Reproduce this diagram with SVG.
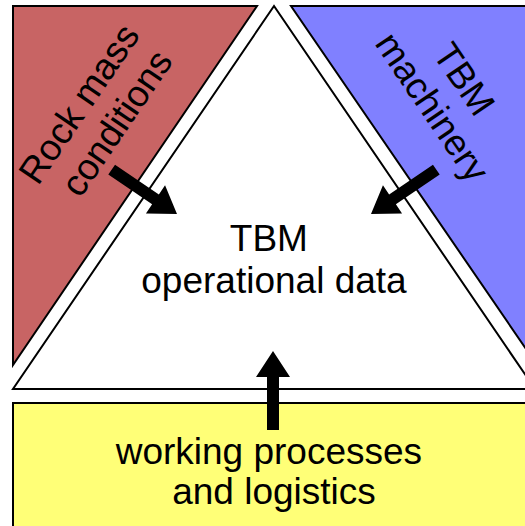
<svg xmlns="http://www.w3.org/2000/svg" width="525" height="526" viewBox="0 0 525 526">
  <style>
    .shape { stroke: #000; stroke-width: 2; stroke-linejoin: miter; }
    .label { font-family: "Liberation Sans", Arial, sans-serif; font-size: 37px; fill: #000; text-anchor: middle; }
    .arrow { fill: #000; }
  </style>
  <defs>
    <!-- block arrow pointing along +x, tip at the origin -->
    <polygon id="blockArrow" points="0,0 -26,-17 -26,-6 -79,-6 -79,6 -26,6 -26,17"/>
  </defs>
  <rect width="525" height="526" fill="#fff"/>

  <g id="rock-mass">
    <polygon class="shape" fill="#C86464" points="13,6 257,6 13,365"/>
    <text class="label" transform="translate(99,111) rotate(-55.8)">
      <tspan x="0" y="-8">Rock mass</tspan>
      <tspan x="0" y="34">conditions</tspan>
    </text>
  </g>

  <g id="tbm-machinery">
    <polygon class="shape" fill="#8080FF" points="291,6 537,6 537,365"/>
    <text class="label" transform="translate(450,95) rotate(55.8)">
      <tspan x="0" y="-8">TBM</tspan>
      <tspan x="0" y="34">machinery</tspan>
    </text>
  </g>

  <g id="operational-data">
    <polygon class="shape" fill="#fff" points="274,6 13,389 535,389"/>
    <text class="label">
      <tspan x="274" y="251">TBM</tspan>
      <tspan x="274" y="293">operational data</tspan>
    </text>
  </g>

  <g id="processes-logistics">
    <rect class="shape" fill="#FFFF77" x="13" y="403" width="530" height="140"/>
    <text class="label">
      <tspan x="274" y="464">working processes</tspan>
      <tspan x="274" y="504">and logistics</tspan>
    </text>
  </g>

  <g id="connectors" class="arrow">
    <use href="#blockArrow" transform="translate(177,214) rotate(34.2)"/>
    <use href="#blockArrow" transform="translate(371,214) rotate(145.8)"/>
    <use href="#blockArrow" transform="translate(273,351) rotate(-90)"/>
  </g>
</svg>
